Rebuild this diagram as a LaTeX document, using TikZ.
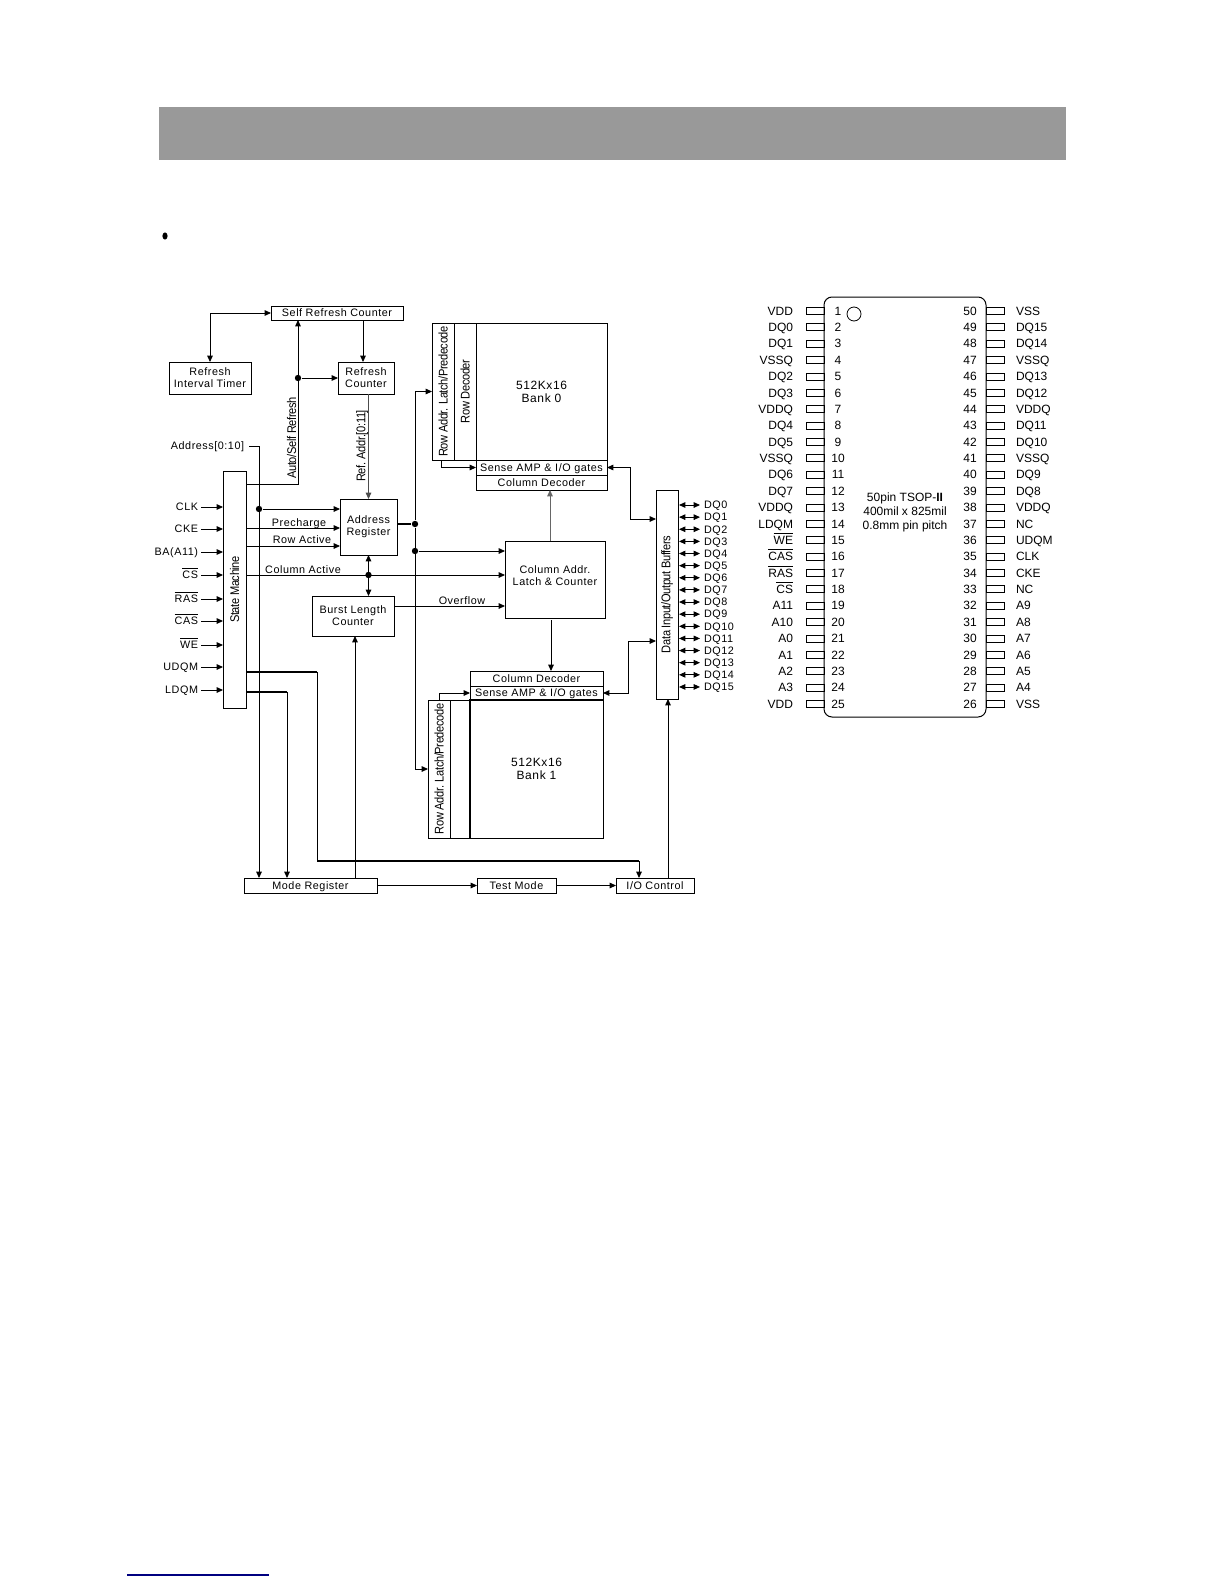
\documentclass[tikz,border=0pt]{standalone}
\usepackage{fontspec}
\setmainfont{Liberation Sans}
\newfontfamily\blockfont[LetterSpace=5]{Liberation Sans}
\newfontfamily\rotfont[FakeStretch=0.88,LetterSpace=-3]{Liberation Sans}
\usetikzlibrary{
    arrows.meta,
    positioning,
    shapes.geometric
}
\newcommand{\blocksize}{\blockfont\fontsize{5.4}{6}\selectfont}
\newcommand{\banksize}{\blockfont\fontsize{6}{6.5}\selectfont}
\newcommand{\vlabel}[1]{\rotatebox{90}{\rotfont\fontsize{6.3}{7}\selectfont #1}}
\newcommand{\ovl}[1]{$\overline{\mbox{#1}}$}

\begin{document}
\begin{tikzpicture}[
        x=0.5pt,y=-0.5pt,
        block/.style={
            rectangle,
            draw=black,
            line width=0.45pt,
            inner sep=0pt,
            outer sep=0pt,
            align=center,
            font=\blocksize
        },
        oneline/.style={text height=3.8pt,text depth=0pt},
        wirelabel/.style={
            inner sep=0pt,
            outer sep=0pt,
            oneline,
            font=\blocksize
        },
        pinlabel/.style={
            inner sep=0pt,
            outer sep=0pt,
            text height=4.2pt,
            text depth=0pt,
            font=\fontsize{6}{7}\selectfont
        },
        pinbox/.style={
            rectangle,
            draw=black,
            line width=0.4pt,
            inner sep=0pt,
            outer sep=0pt,
            minimum width=9pt,
            minimum height=3.5pt
        },
        arrow/.style={
            -{Triangle[length=3.2pt,width=2.8pt]},
            line width=0.45pt,
            draw=black
        },
        biarrow/.style={
            {Triangle[length=3.2pt,width=2.8pt]}-{Triangle[length=3.2pt,width=2.8pt]},
            line width=0.45pt,
            draw=black
        },
        thickwire/.style={line width=0.9pt,draw=black},
        junction/.style={circle,fill=black,inner sep=0pt,minimum size=3.2pt}
    ]
        \useasboundingbox (0,0) rectangle (1224,1584);

        % Page furniture
        \node[fill=black!40,inner sep=0pt,minimum width=453.5pt,minimum height=26.5pt,
            anchor=north west] (band) at (159,107) {};
        \node[ellipse,fill=black,inner sep=0pt,minimum width=2.6pt,minimum height=3.6pt] (bullet) at (165,236) {};
        \coordinate (rulestart) at (127,1575);
        \coordinate (ruleend) at (269,1575);
        \draw[line width=0.6pt,draw=blue!50!black] (rulestart) -- (ruleend);

        % Refresh blocks
        \node[block,oneline,minimum width=66pt,minimum height=7pt,anchor=north west] (selfrefresh)
            at (271,306) {Self Refresh Counter};
        \node[block,minimum width=28pt,minimum height=16pt,below=21pt of selfrefresh,xshift=14.5pt]
            (refreshcounter) {Refresh\\Counter};
        \node[block,minimum width=41pt,minimum height=16pt,left=43.5pt of refreshcounter]
            (timer) {Refresh\\Interval Timer};

        % Address and control blocks
        \node[block,minimum width=28.5pt,minimum height=28pt,below=52.5pt of refreshcounter,xshift=1.25pt]
            (addrreg) {Address\\Register};
        \node[block,minimum width=11.5pt,minimum height=118.5pt,left=47pt of addrreg,yshift=-31.25pt]
            (statemachine) {\vlabel{State Machine}};
        \node[block,minimum width=41pt,minimum height=20pt,below=20.5pt of addrreg,xshift=-7.75pt]
            (burst) {Burst Length\\Counter};
        \node[block,minimum width=50pt,minimum height=38.5pt,right=54pt of addrreg,yshift=-26.25pt]
            (coladdr) {};
        \node[inner sep=0pt,align=center,font=\blocksize] (coladdrlabel)
            at ([yshift=1.75pt]coladdr.center) {Column Addr.\\Latch \& Counter};

        % Bank 0
        \node[block,oneline,minimum width=65.5pt,minimum height=7.5pt,above=25.5pt of coladdr,xshift=-6.75pt]
            (coldec0) {Column Decoder};
        \node[block,oneline,minimum width=65.5pt,minimum height=7.5pt,above=0pt of coldec0] (sense0) {Sense AMP \& I/O gates};
        \node[block,font=\banksize,minimum width=65.5pt,minimum height=68.5pt,above=0pt of sense0] (bank0) {512Kx16\\Bank 0};
        \node[block,minimum width=11pt,minimum height=68.5pt,left=0pt of bank0] (rowdec0) {\vlabel{Row Decoder}};
        \node[block,minimum width=11pt,minimum height=68.5pt,left=0pt of rowdec0] (rowlatch0)
            {\vlabel{Row Addr. Latch/Predecode}};

        % Bank 1
        \node[block,oneline,minimum width=66.5pt,minimum height=7.5pt,below=26.5pt of coladdr,xshift=-9.25pt]
            (coldec1) {Column Decoder};
        \node[block,oneline,minimum width=66.5pt,minimum height=7pt,below=0pt of coldec1] (sense1) {Sense AMP \& I/O gates};
        \node[block,font=\banksize,minimum width=66.5pt,minimum height=69pt,below=0pt of sense1] (bank1) {512Kx16\\Bank 1};
        \node[block,minimum width=10pt,minimum height=69pt,left=0pt of bank1] (rowspare1) {};
        \node[block,minimum width=11pt,minimum height=69pt,left=0pt of rowspare1] (rowlatch1)
            {\vlabel{Row Addr. Latch/Predecode}};
        \draw[thickwire] (bank1.north east) -- (bank1.north west) -- (bank1.south west);

        % Data buffers and bottom row
        \node[block,minimum width=11pt,minimum height=104.5pt,right=25.5pt of coladdr,yshift=-7.5pt]
            (buffers) {\vlabel{Data Input/Output Buffers}};
        \node[block,oneline,minimum width=66.5pt,minimum height=7.5pt,below=85pt of statemachine,xshift=38pt]
            (modereg) {Mode Register};
        \node[block,oneline,minimum width=39.5pt,minimum height=7.5pt,right=50pt of modereg] (testmode) {Test Mode};
        \node[block,oneline,minimum width=39pt,minimum height=7.5pt,right=30pt of testmode] (iocontrol) {I/O Control};

        % Refresh wiring
        \draw[biarrow] (selfrefresh.west) -| (timer.north);
        \coordinate (refreshin) at ([xshift=-1.5pt]refreshcounter.north);
        \draw[arrow] (refreshin |- selfrefresh.south) -- (refreshin);
        \coordinate (autoout) at ([yshift=52.75pt]statemachine.east);
        \coordinate (selfin) at ([xshift=-19.5pt]selfrefresh.south);
        \draw[arrow] (autoout) -| (selfin);
        \node[junction] (refreshdot) at (selfin |- refreshcounter.west) {};
        \draw[arrow] (refreshdot) -- (refreshcounter.west);
        \draw[arrow,draw=black!70] (addrreg.north |- refreshcounter.south) -- (addrreg.north);
        \node[inner sep=0pt] (autolabel) at (291.5,438) {\vlabel{Auto/Self Refresh}};
        \node[inner sep=0pt] (reflabel) at (362,446) {\vlabel{Ref. Addr.[0:11]}};

        % Address wiring
        \node[wirelabel] (addresslabel) at (207.5,446) {Address[0:10]};
        \coordinate (addrout) at ([xshift=2.5pt]addresslabel.east);
        \coordinate (modein) at ([xshift=-25.75pt]modereg.north);
        \draw[arrow] (addrout) -| (modein);
        \coordinate (addrin) at ([yshift=9pt]addrreg.west);
        \node[junction] (addrdot) at (modein |- addrin) {};
        \draw[arrow] (addrdot) -- (addrin);
        \coordinate (prechargein) at ([yshift=-0.5pt]addrreg.west);
        \draw[arrow] (prechargein -| statemachine.east) -- (prechargein);
        \node[wirelabel] (prechargelabel) at (299,523) {Precharge};
        \coordinate (rowactivein) at ([yshift=-9.5pt]addrreg.west);
        \draw[arrow] (rowactivein -| statemachine.east) -- (rowactivein);
        \node[wirelabel] (rowactivelabel) at (302,540) {Row Active};
        \coordinate (colactivein) at ([yshift=2.25pt]coladdr.west);
        \draw[arrow] (colactivein -| statemachine.east) -- (colactivein);
        \node[wirelabel] (colactivelabel) at (303,570) {Column Active};
        \draw[biarrow] (addrreg.south) -- (addrreg.south |- burst.north);
        \node[junction] (burstdot) at (addrreg.south |- colactivein) {};
        \coordinate (overflowin) at ([yshift=-13.25pt]coladdr.west);
        \draw[arrow] (overflowin -| burst.east) -- (overflowin);
        \node[wirelabel] (overflowlabel) at (462,601) {Overflow};

        % Address bus to the banks
        \node[junction] (busdot) at ([xshift=9pt,yshift=1.5pt]addrreg.east) {};
        \draw[thickwire] (busdot -| addrreg.east) -- (busdot);
        \draw[arrow] (busdot) |- (rowlatch0.west);
        \draw[arrow] (busdot) |- (rowlatch1.west);
        \coordinate (coladdrin) at ([yshift=14.25pt]coladdr.west);
        \node[junction] (coladdrdot) at (busdot |- coladdrin) {};
        \draw[arrow] (coladdrdot) -- (coladdrin);
        \draw[arrow] ([xshift=-1pt]rowlatch0.south) |- (sense0.west);
        \draw[arrow] (rowlatch1.north) |- (sense1.west);
        \coordinate (colup) at ([xshift=-2.5pt]coladdr.north);
        \draw[arrow,draw=black!60] (colup) -- (colup |- coldec0.south);
        \coordinate (coldown) at ([xshift=-2pt,yshift=-1pt]coladdr.south);
        \draw[arrow] (coldown) -- (coldown |- coldec1.north);

        % Data wiring
        \coordinate (bufin0) at ([yshift=37.75pt]buffers.west);
        \draw[biarrow] (sense0.east) -| ([xshift=-13pt]bufin0) -- (bufin0);
        \coordinate (bufin1) at ([yshift=-23.25pt]buffers.west);
        \draw[biarrow] (sense1.east) -| ([xshift=-14pt]bufin1) -- (bufin1);
        \foreach \i in {0,...,15} {
            \pgfmathsetmacro{\ypos}{505+12.13*\i}
            \node[wirelabel,anchor=west] (dq\i) at (704,\ypos) {DQ\i};
            \draw[biarrow] ([xshift=0.5pt]buffers.east |- dq\i.west) -- ([xshift=-2pt]dq\i.west);
        }

        % Mode and I/O wiring
        \coordinate (burstin) at ([xshift=1pt]burst.south);
        \draw[arrow] (modereg.north -| burstin) -- (burstin);
        \draw[arrow] (modereg.east) -- (testmode.west);
        \draw[arrow] (testmode.east) -- (iocontrol.west);
        \coordinate (bufferin) at ([xshift=0.5pt]buffers.south);
        \draw[arrow] (bufferin |- iocontrol.north) -- (bufferin);
        \coordinate (udqmout) at ([yshift=-41.25pt]statemachine.east);
        \coordinate (udqmturn) at ([xshift=3.25pt]modereg.north);
        \coordinate (iotop) at ([xshift=-8pt]iocontrol.north);
        \coordinate (iotopturn) at ([yshift=8.5pt]iotop);
        \draw[thickwire] (udqmout) -- (udqmout -| udqmturn);
        \draw[line width=0.5pt,draw=black] (udqmout -| udqmturn) -- (udqmturn |- iotopturn);
        \draw[thickwire] (udqmturn |- iotopturn) -- (iotopturn);
        \draw[arrow] (iotopturn) -- (iotop);
        \coordinate (ldqmout) at ([yshift=-51.25pt]statemachine.east);
        \coordinate (ldqmin) at ([xshift=-11.75pt]modereg.north);
        \draw[thickwire] (ldqmout) -- (ldqmout -| ldqmin);
        \draw[arrow] (ldqmout -| ldqmin) -- (ldqmin);

        % Control inputs
        \foreach \sig/\ypos/\txt in {clk/507/CLK,cke/529/CKE,ba/552/BA(A11),cs/575/\ovl{CS},
                ras/599/\ovl{RAS},cas/621/\ovl{CAS},we/645/\ovl{WE},udqm/667/UDQM,ldqm/690/LDQM} {
            \node[wirelabel,anchor=east] (\sig) at (198,\ypos) {\txt};
            \draw[arrow] ([xshift=1.5pt]\sig.east) -- (\sig.east -| statemachine.west);
        }

        % Package outline
        \node[rectangle,draw=black,line width=0.5pt,rounded corners=4pt,inner sep=0pt,outer sep=0pt,
            minimum width=81pt,minimum height=210pt,anchor=north west] (chip) at (824,297) {};
        \node[circle,draw=black,line width=0.4pt,inner sep=0pt,minimum size=7pt] (pinmark) at (854,314) {};
        \node[align=center,inner sep=0pt,font=\fontsize{6}{7}\selectfont] (chiplabel) at (905,512)
            {50pin TSOP-\textbf{II}\\400mil x 825mil\\0.8mm pin pitch};

        % Left pins
        \foreach \n/\lab in {1/VDD,2/DQ0,3/DQ1,4/VSSQ,5/DQ2,6/DQ3,7/VDDQ,8/DQ4,9/DQ5,10/VSSQ,11/DQ6,12/DQ7,
                13/VDDQ,14/LDQM,15/\ovl{WE},16/\ovl{CAS},17/\ovl{RAS},18/\ovl{CS},19/A11,20/A10,21/A0,22/A1,
                23/A2,24/A3,25/VDD} {
            \pgfmathsetmacro{\ypos}{311+16.375*(\n-1)}
            \node[pinbox,anchor=east] (pin\n) at (824,\ypos) {};
            \node[pinlabel] (num\n) at (838,\ypos) {\n};
            \node[pinlabel,anchor=east] (name\n) at (793,\ypos) {\lab};
        }

        % Right pins
        \foreach \n/\lab in {50/VSS,49/DQ15,48/DQ14,47/VSSQ,46/DQ13,45/DQ12,44/VDDQ,43/DQ11,42/DQ10,41/VSSQ,
                40/DQ9,39/DQ8,38/VDDQ,37/NC,36/UDQM,35/CLK,34/CKE,33/NC,32/A9,31/A8,30/A7,29/A6,28/A5,27/A4,26/VSS} {
            \pgfmathsetmacro{\ypos}{311+16.375*(50-\n)}
            \node[pinbox,anchor=west] (pin\n) at (986,\ypos) {};
            \node[pinlabel] (num\n) at (970,\ypos) {\n};
            \node[pinlabel,anchor=west] (name\n) at (1016,\ypos) {\lab};
        }
    \end{tikzpicture}
\end{document}
